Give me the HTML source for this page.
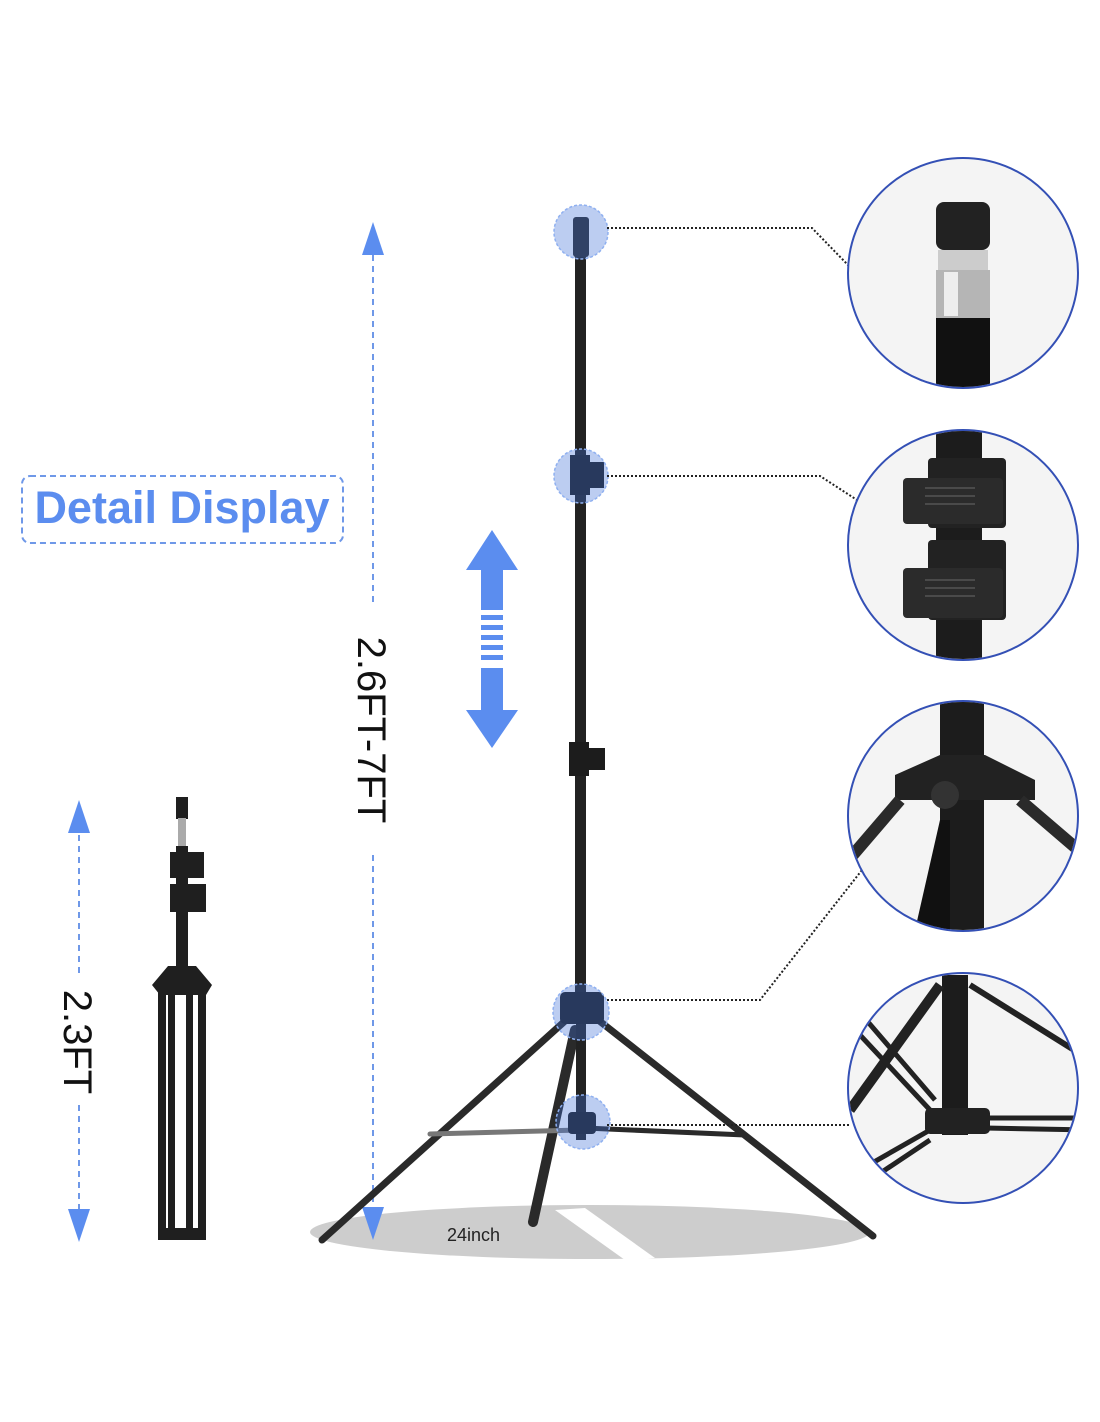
<!DOCTYPE html>
<html><head><meta charset="utf-8"><style>
html,body{margin:0;padding:0;background:#fff;}
svg{display:block}
text{font-family:"Liberation Sans",sans-serif}
</style></head><body>
<svg width="1100" height="1422" viewBox="0 0 1100 1422" xmlns="http://www.w3.org/2000/svg">
<defs>
<clipPath id="c1"><circle cx="963" cy="273" r="114"/></clipPath>
<clipPath id="c2"><circle cx="963" cy="545" r="114"/></clipPath>
<clipPath id="c3"><circle cx="963" cy="816" r="114"/></clipPath>
<clipPath id="c4"><circle cx="963" cy="1088" r="114"/></clipPath>
</defs>
<rect width="1100" height="1422" fill="#fff"/>

<!-- ground ellipse -->
<ellipse cx="590" cy="1232" rx="280" ry="27" fill="#cdcdcd"/>
<polygon points="555,1210 585,1208 655,1258 625,1260" fill="#fff"/>
<text x="447" y="1241" font-size="18" fill="#222">24inch</text>

<!-- Detail Display box -->
<rect x="22" y="476" width="321" height="67" rx="8" fill="none" stroke="#6f98e8" stroke-width="2" stroke-dasharray="6,4"/>
<text x="182" y="523" text-anchor="middle" font-size="45" font-weight="bold" fill="#5b8def">Detail Display</text>

<!-- big dimension -->
<line x1="373" y1="255" x2="373" y2="605" stroke="#6f98e8" stroke-width="2" stroke-dasharray="6,5"/>
<line x1="373" y1="855" x2="373" y2="1210" stroke="#6f98e8" stroke-width="2" stroke-dasharray="6,5"/>
<polygon points="373,222 362,255 384,255" fill="#5b8def"/>
<polygon points="373,1240 362,1207 384,1207" fill="#5b8def"/>
<text transform="translate(358,730) rotate(90)" text-anchor="middle" font-size="40" fill="#111">2.6FT-7FT</text>

<!-- small dimension -->
<line x1="79" y1="835" x2="79" y2="975" stroke="#6f98e8" stroke-width="2" stroke-dasharray="6,5"/>
<line x1="79" y1="1105" x2="79" y2="1210" stroke="#6f98e8" stroke-width="2" stroke-dasharray="6,5"/>
<polygon points="79,800 68,833 90,833" fill="#5b8def"/>
<polygon points="79,1242 68,1209 90,1209" fill="#5b8def"/>
<text transform="translate(64,1042) rotate(90)" text-anchor="middle" font-size="40" fill="#111">2.3FT</text>

<!-- blue double arrow -->
<polygon points="492,530 466,570 518,570" fill="#5b8def"/>
<polygon points="492,748 466,710 518,710" fill="#5b8def"/>
<rect x="481" y="568" width="22" height="42" fill="#5b8def"/>
<rect x="481" y="668" width="22" height="44" fill="#5b8def"/>
<g fill="#5b8def"><rect x="481" y="615" width="22" height="5"/><rect x="481" y="625" width="22" height="5"/><rect x="481" y="635" width="22" height="5"/><rect x="481" y="645" width="22" height="5"/><rect x="481" y="655" width="22" height="5"/></g>

<!-- main stand -->
<rect x="575" y="255" width="11" height="760" fill="#222"/>
<rect x="573" y="217" width="16" height="40" rx="3" fill="#2a2a2a"/>
<rect x="570" y="455" width="20" height="40" fill="#1c1c1c"/>
<rect x="588" y="462" width="16" height="26" fill="#1c1c1c"/>
<rect x="569" y="742" width="20" height="34" fill="#1c1c1c"/>
<rect x="588" y="748" width="17" height="22" fill="#1c1c1c"/>
<g stroke="#2a2a2a" stroke-linecap="round">
<line x1="575" y1="1012" x2="322" y2="1240" stroke-width="7"/>
<line x1="588" y1="1012" x2="873" y2="1236" stroke-width="7"/>
<line x1="575" y1="1030" x2="533" y2="1222" stroke-width="10"/>
<line x1="430" y1="1134" x2="580" y2="1130" stroke-width="5" stroke="#777"/>
<line x1="585" y1="1128" x2="745" y2="1135" stroke-width="5"/>
</g>
<rect x="576" y="1010" width="10" height="130" fill="#222"/>
<rect x="560" y="992" width="44" height="32" rx="5" fill="#1c1c1c"/>
<rect x="568" y="1112" width="28" height="22" rx="4" fill="#1c1c1c"/>
<g fill="#3f6fd8" fill-opacity="0.35" stroke="#8fb0f0" stroke-width="1.5" stroke-dasharray="3,2">
<circle cx="581" cy="232" r="27"/><circle cx="581" cy="476" r="27"/>
<circle cx="581" cy="1012" r="28"/><circle cx="583" cy="1122" r="27"/>
</g>

<!-- small folded stand -->
<g fill="#1f1f1f">
<rect x="176" y="797" width="12" height="22"/>
<rect x="178" y="818" width="8" height="30" fill="#aaa"/>
<rect x="176" y="846" width="12" height="130"/>
<rect x="170" y="852" width="34" height="26"/>
<rect x="170" y="884" width="36" height="28"/>
<polygon points="152,985 168,966 196,966 212,985 206,995 160,995"/>
<rect x="158" y="990" width="8" height="250"/>
<rect x="198" y="990" width="8" height="250"/>
<rect x="168" y="990" width="7" height="250"/>
<rect x="186" y="990" width="7" height="250"/>
<rect x="158" y="1228" width="48" height="12"/>
</g>

<!-- connectors -->
<g fill="none" stroke="#222" stroke-width="2" stroke-dasharray="2,2">
<polyline points="607,228 812,228 848,265"/>
<polyline points="607,476 820,476 857,500"/>
<polyline points="607,1000 760,1000 862,870"/>
<polyline points="607,1125 850,1125"/>
</g>

<!-- detail circles -->
<g stroke="#3450b5" stroke-width="2" fill="#f4f4f4">
<circle cx="963" cy="273" r="115"/><circle cx="963" cy="545" r="115"/>
<circle cx="963" cy="816" r="115"/><circle cx="963" cy="1088" r="115"/>
</g>
<g clip-path="url(#c1)">
<rect x="936" y="202" width="54" height="48" rx="8" fill="#222"/>
<rect x="938" y="250" width="50" height="20" fill="#ccc"/>
<rect x="936" y="270" width="54" height="48" fill="#b5b5b5"/>
<rect x="944" y="272" width="14" height="44" fill="#eee"/>
<rect x="936" y="318" width="54" height="80" fill="#111"/>
</g>
<g clip-path="url(#c2)">
<rect x="936" y="420" width="46" height="260" fill="#1c1c1c"/>
<rect x="928" y="458" width="78" height="70" rx="4" fill="#222"/>
<rect x="903" y="478" width="100" height="46" rx="4" fill="#2b2b2b"/>
<rect x="928" y="540" width="78" height="80" rx="4" fill="#222"/>
<rect x="903" y="568" width="100" height="50" rx="4" fill="#2b2b2b"/>
<g stroke="#555" stroke-width="1.5"><line x1="925" y1="488" x2="975" y2="488"/><line x1="925" y1="496" x2="975" y2="496"/><line x1="925" y1="504" x2="975" y2="504"/><line x1="925" y1="580" x2="975" y2="580"/><line x1="925" y1="588" x2="975" y2="588"/><line x1="925" y1="596" x2="975" y2="596"/></g>
</g>
<g clip-path="url(#c3)">
<rect x="940" y="700" width="44" height="240" fill="#1c1c1c"/>
<polygon points="895,775 940,755 985,755 1035,780 1035,800 895,800" fill="#222"/>
<polygon points="940,820 915,930 950,930 950,820" fill="#111"/>
<line x1="900" y1="800" x2="840" y2="870" stroke="#2a2a2a" stroke-width="12"/>
<line x1="1020" y1="800" x2="1090" y2="860" stroke="#2a2a2a" stroke-width="12"/>
<circle cx="945" cy="795" r="14" fill="#333"/>
</g>
<g clip-path="url(#c4)">
<rect x="942" y="975" width="26" height="160" fill="#1c1c1c"/>
<line x1="940" y1="985" x2="850" y2="1110" stroke="#222" stroke-width="10"/>
<line x1="868" y1="1022" x2="935" y2="1100" stroke="#222" stroke-width="5"/>
<line x1="860" y1="1035" x2="930" y2="1110" stroke="#222" stroke-width="5"/>
<line x1="970" y1="985" x2="1090" y2="1060" stroke="#222" stroke-width="6"/>
<line x1="930" y1="1130" x2="860" y2="1170" stroke="#222" stroke-width="5"/>
<line x1="930" y1="1140" x2="870" y2="1180" stroke="#222" stroke-width="5"/>
<line x1="985" y1="1118" x2="1090" y2="1118" stroke="#222" stroke-width="5"/>
<line x1="985" y1="1128" x2="1090" y2="1130" stroke="#222" stroke-width="5"/>
<rect x="925" y="1108" width="65" height="26" rx="5" fill="#222"/>
</g>
</svg>
</body></html>
